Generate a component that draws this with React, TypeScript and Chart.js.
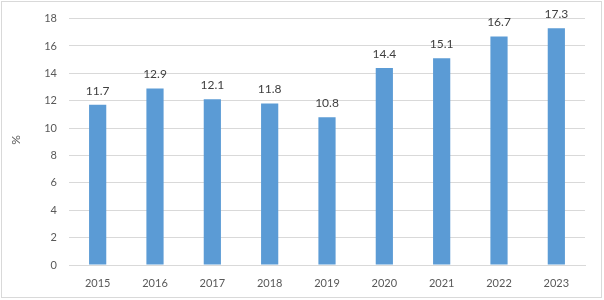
import React, { useEffect, useRef } from "react";
import { Chart, registerables } from "chart.js";

Chart.register(...registerables);

const categories = ["2015", "2016", "2017", "2018", "2019", "2020", "2021", "2022", "2023"];
const values = [11.7, 12.9, 12.1, 11.8, 10.8, 14.4, 15.1, 16.7, 17.3];
const yAxisLabel = "%";

const FONT = "Lato, 'Liberation Sans', sans-serif";

const extrasPlugin = {
  id: "extras",
  afterDatasetsDraw(chart: any) {
    const ctx = chart.ctx;
    const meta = chart.getDatasetMeta(0);
    ctx.save();
    ctx.fillStyle = "#404040";
    ctx.font = `12px ${FONT}`;
    ctx.textAlign = "center";
    ctx.textBaseline = "bottom";
    meta.data.forEach((bar: any, i: number) => {
      ctx.fillText(values[i].toFixed(1), bar.x, bar.y - 8);
    });
    // y-axis title
    ctx.fillStyle = "#595959";
    ctx.font = `12px ${FONT}`;
    ctx.translate(16, 140);
    ctx.rotate(-Math.PI / 2);
    ctx.textAlign = "center";
    ctx.textBaseline = "middle";
    ctx.fillText(yAxisLabel, 0, 0);
    ctx.restore();
    // border
    ctx.save();
    ctx.strokeStyle = "#d9d9d9";
    ctx.lineWidth = 1;
    ctx.strokeRect(1.5, 1.5, 600, 296);
    ctx.restore();
  },
};

export default function App() {
  const ref = useRef<HTMLCanvasElement>(null);
  useEffect(() => {
    document.body.style.margin = "0";
    const chart = new Chart(ref.current!, {
      type: "bar",
      data: {
        labels: categories,
        datasets: [
          {
            data: values,
            backgroundColor: "#5B9BD5",
            categoryPercentage: 1,
            barPercentage: 0.3,
          },
        ],
      },
      options: {
        animation: false,
        responsive: false,
        devicePixelRatio: 1,
        layout: { padding: { left: 0, top: 15, right: 19, bottom: 0 } },
        plugins: { legend: { display: false }, tooltip: { enabled: false } },
        scales: {
          x: {
            grid: { display: false, drawTicks: false },
            border: { display: true, color: "#d9d9d9", width: 1 },
            ticks: { color: "#595959", font: { family: FONT, size: 11 }, padding: 12 },
            afterFit: (s: any) => {
              s.height = 35;
            },
          },
          y: {
            min: 0,
            max: 18,
            ticks: { stepSize: 2, color: "#595959", font: { family: FONT, size: 11 }, padding: 12 },
            grid: { color: "#d9d9d9", drawTicks: false },
            border: { display: false },
            afterFit: (s: any) => {
              s.width = 69;
            },
          },
        },
      },
      plugins: [extrasPlugin],
    });
    return () => chart.destroy();
  }, []);
  return (
    <div style={{ position: "absolute", left: 0, top: 0, width: 604, height: 300, background: "#fff" }}>
      <canvas ref={ref} width={604} height={300} />
    </div>
  );
}
